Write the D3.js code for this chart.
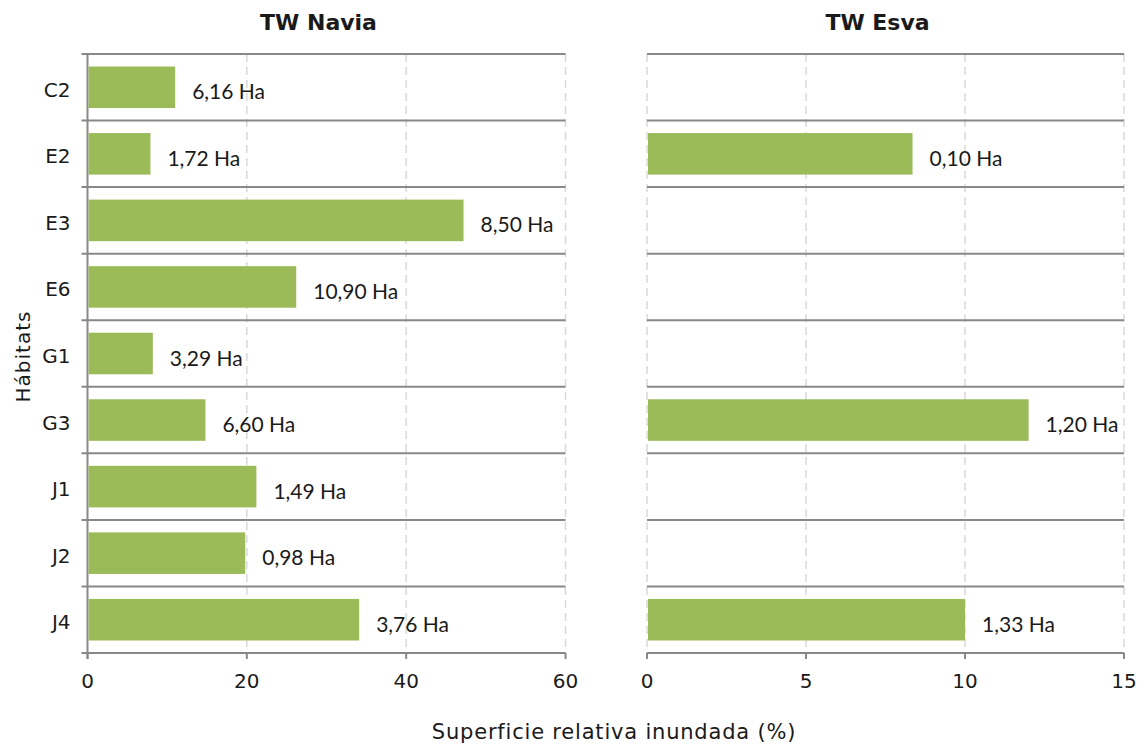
<!DOCTYPE html>
<html>
<head>
<meta charset="utf-8">
<script src="https://cdn.jsdelivr.net/npm/d3@7"></script>
<style>
  body { margin: 0; background: #fff; }
  text { fill: #1a1a1a; }
</style>
</head>
<body>
<svg id="chart" width="1144" height="744"></svg>
<script>
// habitats, top to bottom
const habitats = ['C2', 'E2', 'E3', 'E6', 'G1', 'G3', 'J1', 'J2', 'J4'];

// relative flooded surface (%) and area labels per estuary
const naviaPct = [11.0, 7.9, 47.2, 26.2, 8.2, 14.8, 21.2, 19.8, 34.1];
const naviaHa = ['6,16', '1,72', '8,50', '10,90', '3,29', '6,60', '1,49', '0,98', '3,76'];
const esvaPct = [null, 8.35, null, null, null, 12.0, null, null, 10.0];
const esvaHa = [null, '0,10', null, null, null, '1,20', null, null, '1,33'];

const naviaTicks = [0, 20, 40, 60];
const esvaTicks = [0, 5, 10, 15];

const svg = d3.select('#chart');
const plotTop = 54, plotBottom = 653;
const axisColor = '#888888';
const gridColor = '#d9d9d9';
const barColor = '#9bbb59';

const y = d3.scaleBand().domain(habitats).range([plotTop, plotBottom]).paddingInner(0).paddingOuter(0);
const barPad = 12.5;

// draws one panel; leftAxis = true for the first one
const panel = ({ x0, x1, max, ticks, pct, ha, title, leftAxis }) => {
  const x = d3.scaleLinear().domain([0, max]).range([x0, x1]);
  const g = svg.append('g');

  // dashed vertical grid
  g.selectAll('.grid')
    .data(ticks.filter((t) => !(leftAxis && t === 0)))
    .join('line')
    .attr('x1', (d) => x(d))
    .attr('x2', (d) => x(d))
    .attr('y1', plotTop)
    .attr('y2', plotBottom)
    .attr('stroke', gridColor)
    .attr('stroke-width', 1.5)
    .attr('stroke-dasharray', '8,5');

  // row separators
  const bounds = habitats.map((h) => y(h)).concat([plotBottom]);
  g.selectAll('.sep')
    .data(bounds)
    .join('line')
    .attr('x1', leftAxis ? x0 - 6 : x0)
    .attr('x2', x1)
    .attr('y1', (d) => d)
    .attr('y2', (d) => d)
    .attr('stroke', axisColor)
    .attr('stroke-width', 2);

  // bottom ticks
  g.selectAll('.tick')
    .data(ticks)
    .join('line')
    .attr('x1', (d) => x(d))
    .attr('x2', (d) => x(d))
    .attr('y1', plotBottom)
    .attr('y2', plotBottom + 6)
    .attr('stroke', axisColor)
    .attr('stroke-width', 2);

  g.selectAll('.ticklabel')
    .data(ticks)
    .join('text')
    .attr('x', (d) => x(d))
    .attr('y', plotBottom + 35)
    .attr('text-anchor', 'middle')
    .style('font-family', 'DejaVu Sans')
    .style('font-size', '20px')
    .text((d) => d);

  if (leftAxis) {
    g.append('line')
      .attr('x1', x0)
      .attr('x2', x0)
      .attr('y1', plotTop)
      .attr('y2', plotBottom + 6)
      .attr('stroke', axisColor)
      .attr('stroke-width', 2);

    g.selectAll('.cat')
      .data(habitats)
      .join('text')
      .attr('x', x0 - 17)
      .attr('y', (d) => y(d) + y.bandwidth() / 2 + 9.5)
      .attr('text-anchor', 'end')
      .style('font-family', 'DejaVu Sans')
      .style('font-size', '20px')
      .text((d) => d);
  }

  const rows = habitats.map((h, i) => ({ h, v: pct[i], ha: ha[i] })).filter((d) => d.v != null);

  g.selectAll('.bar')
    .data(rows)
    .join('rect')
    .attr('x', x(0) + 1)
    .attr('y', (d) => y(d.h) + barPad)
    .attr('width', (d) => x(d.v) - x(0) - 1)
    .attr('height', y.bandwidth() - 2 * barPad)
    .attr('fill', barColor);

  g.selectAll('.val')
    .data(rows)
    .join('text')
    .attr('x', (d) => x(d.v) + 17)
    .attr('y', (d) => y(d.h) + y.bandwidth() / 2 + 12)
    .style('font-family', 'Lato')
    .style('font-size', '21px')
    .text((d) => `${d.ha} Ha`);

  svg.append('text')
    .attr('x', (x0 + x1) / 2 - 8)
    .attr('y', 30)
    .attr('text-anchor', 'middle')
    .style('font-family', 'DejaVu Sans')
    .style('font-weight', 'bold')
    .style('font-size', '22px')
    .text(title);
};

panel({ x0: 87.5, x1: 565.5, max: 60, ticks: naviaTicks, pct: naviaPct, ha: naviaHa, title: 'TW Navia', leftAxis: true });
panel({ x0: 647, x1: 1124, max: 15, ticks: esvaTicks, pct: esvaPct, ha: esvaHa, title: 'TW Esva', leftAxis: false });

svg.append('text')
  .attr('transform', `translate(30,${(plotTop + plotBottom) / 2 + 3}) rotate(-90)`)
  .attr('text-anchor', 'middle')
  .style('font-family', 'DejaVu Sans')
  .style('font-size', '20px')
  .style('letter-spacing', '1px')
  .text('Hábitats');

svg.append('text')
  .attr('x', 614)
  .attr('y', 739)
  .attr('text-anchor', 'middle')
  .style('font-family', 'DejaVu Sans')
  .style('font-size', '21px')
  .style('letter-spacing', '0.8px')
  .text('Superficie relativa inundada (%)');
</script>
</body>
</html>
